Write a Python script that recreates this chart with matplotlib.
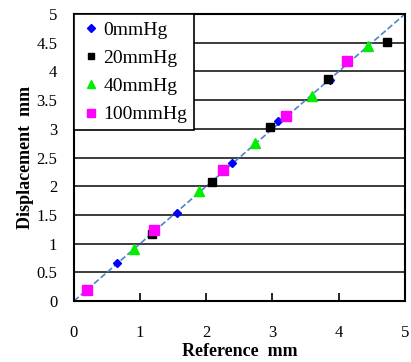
import numpy as np
import matplotlib.pyplot as plt

plt.rcParams['font.family'] = ['Liberation Serif', 'DejaVu Serif']

# reference (x) and displacement (y) per pressure
x_0 = [0.65, 1.56, 2.39, 3.08, 3.87]
y_0 = [0.67, 1.54, 2.40, 3.13, 3.85]
x_20 = [1.18, 2.08, 2.96, 3.84, 4.73]
y_20 = [1.17, 2.08, 3.03, 3.87, 4.51]
x_40 = [0.91, 1.89, 2.74, 3.59, 4.44]
y_40 = [0.91, 1.91, 2.76, 3.58, 4.45]
x_100 = [0.19, 1.21, 2.25, 3.21, 4.13]
y_100 = [0.19, 1.23, 2.28, 3.23, 4.18]
labels = ['0mmHg', '20mmHg', '40mmHg', '100mmHg']

fig = plt.figure(figsize=(4.11, 3.62), dpi=100)
ax = fig.add_axes([0.18, 0.1685, 0.805, 0.7925])

ax.plot([0, 5], [0, 5], linestyle='--', color='#4a86c8', lw=1.2, zorder=2)

ax.plot(x_0, y_0, 'D', color='#0000ff', ms=4.5, label=labels[0], zorder=3)
ax.plot(x_20, y_20, 's', color='black', ms=5.5, label=labels[1], zorder=3)
ax.plot(x_40, y_40, '^', color='#00ee00', ms=7, label=labels[2], zorder=3)
ax.plot(x_100, y_100, 's', color='#ff00ff', ms=7, label=labels[3], zorder=3)

ax.set_xlim(0, 5)
ax.set_ylim(0, 5)
ax.set_xticks(np.arange(0, 6, 1))
ax.set_yticks(np.arange(0, 5.5, 0.5))
ax.set_yticklabels(['0', '0.5', '1', '1.5', '2', '2.5', '3', '3.5', '4', '4.5', '5'])
ax.yaxis.grid(True, color='0.1', lw=1.2)
ax.set_axisbelow(True)
ax.tick_params(axis='x', direction='in', length=6, width=1.2, pad=17, labelsize=12)
ax.tick_params(axis='y', direction='in', length=0, pad=12, labelsize=12)
for s in ax.spines.values():
    s.set_linewidth(1.5)

ax.set_xlabel('Reference  mm', fontweight='bold', fontsize=13, labelpad=2)
ax.set_ylabel('Displacement  mm', fontweight='bold', fontsize=13, labelpad=2)

leg = ax.legend(loc='upper left', fontsize=14, frameon=True, fancybox=False,
                borderaxespad=0, handletextpad=0.15, handlelength=1.0,
                borderpad=0.35, labelspacing=0.55, markerscale=0.9)
leg.get_frame().set_edgecolor('black')
leg.get_frame().set_linewidth(1.2)
leg.get_frame().set_alpha(1)

fig.savefig('out.png', dpi=100)
